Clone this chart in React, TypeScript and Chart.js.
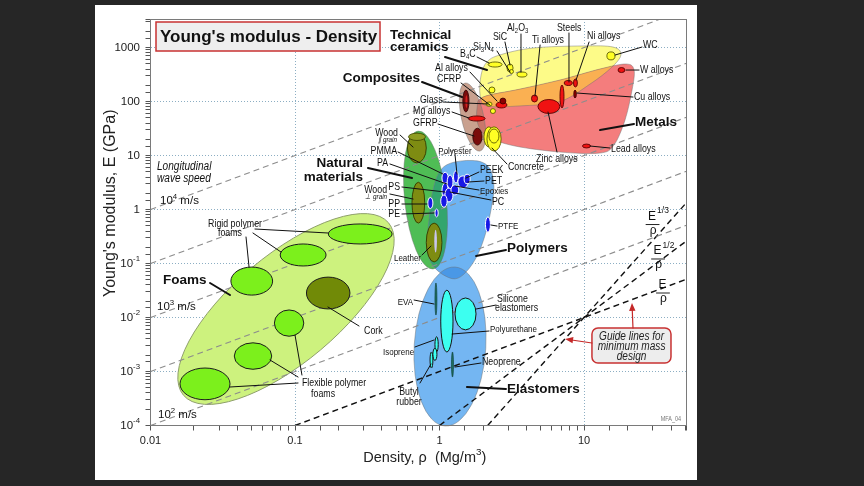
import React, { useEffect, useRef } from 'react';
import { Chart, registerables } from 'chart.js';
Chart.register(...registerables);

type R = [number, number];
type Seg = { t: string; v?: 'sub' | 'sup' };
type Cell = { name: string; rho: R; E: R };
type RotEnv = { from: R; to: R; ratio: number };

const FAMILY = "'Liberation Sans', Arial, Helvetica, sans-serif";

// ---------------- axes ----------------
const densityRange: R = [0.01, 50.8];
const modulusRange: R = [1e-4, 3375];
const xTickLabels = [
  { v: 0.01, t: '0.01' },
  { v: 0.1, t: '0.1' },
  { v: 1, t: '1' },
  { v: 10, t: '10' },
];
const yTickLabels: { v: number; t: string; sup?: string }[] = [
  { v: 1000, t: '1000' },
  { v: 100, t: '100' },
  { v: 10, t: '10' },
  { v: 1, t: '1' },
  { v: 0.1, t: '10', sup: '-1' },
  { v: 0.01, t: '10', sup: '-2' },
  { v: 0.001, t: '10', sup: '-3' },
  { v: 0.0001, t: '10', sup: '-4' },
];

// ---------------- guide lines (density, modulus end points) ----------------
const waveSpeedLines: R[][] = [
  [[0.01, 1], [60, 6000]],
  [[0.01, 0.1], [60, 600]],
  [[0.01, 0.01], [60, 60]],
  [[0.01, 0.001], [60, 6]],
  [[0.01, 0.0001], [60, 0.6]],
];
const minMassLines: R[][] = [
  [[0.1, 0.0001], [60, 0.06]],
  [[1, 0.0001], [60, 0.36]],
  [[2.154, 0.0001], [60, 2.16]],
];

// ---------------- envelopes ----------------
const foamsEnvelope: RotEnv = { from: [0.444, 0.567], to: [0.0169, 0.000364], ratio: 0.4 };
const naturalEnvelope: RotEnv = { from: [0.71, 28.4], to: [0.902, 0.0791], ratio: 0.3 };
const compositesEnvelope: RotEnv = { from: [1.502, 220], to: [1.907, 12.1], ratio: 0.32 };
const elastomersEnvelope: RotEnv = { from: [1.28, 0.0861], to: [1.092, 0.0000979], ratio: 0.45 };
const ceramicsEnvelope: R[] = [
  [2.13, 540], [2.62, 730], [4.44, 980], [9.84, 1070], [15.9, 1020], [18.0, 730],
  [15.4, 420], [11.0, 210], [6.82, 100], [3.61, 83], [2.13, 83], [1.91, 130], [1.94, 310],
];
const metalsEnvelope: R[] = [
  [2.0, 121], [3.61, 170], [6.82, 250], [12.9, 400], [19.5, 495], [22.2, 383], [21.5, 163],
  [19.2, 45], [16.1, 15.6], [12.9, 11.1], [6.82, 11.6], [3.33, 15], [2.17, 22], [1.85, 37], [1.82, 76],
];
const polymersEnvelope: R[] = [
  [1.28, 7.6], [1.85, 7.9], [2.24, 5.6], [2.38, 2.6], [2.27, 0.98], [2.07, 0.34], [1.82, 0.138],
  [1.53, 0.07], [1.28, 0.052], [1.04, 0.064], [0.887, 0.098], [0.819, 0.194], [0.846, 0.64],
  [0.902, 2.3], [1.02, 5.4],
];

// ---------------- material property ranges ----------------
const foamCells: Cell[] = [
  { name: 'Rigid polymer foam HD', rho: [0.17, 0.47], E: [0.23, 0.54] },
  { name: 'Rigid polymer foam MD', rho: [0.079, 0.164], E: [0.09, 0.23] },
  { name: 'Rigid polymer foam LD', rho: [0.036, 0.07], E: [0.026, 0.086] },
  { name: 'Flexible polymer foam HD', rho: [0.072, 0.115], E: [0.0045, 0.0138] },
  { name: 'Flexible polymer foam MD', rho: [0.038, 0.069], E: [0.0011, 0.0034] },
  { name: 'Flexible polymer foam LD', rho: [0.016, 0.0355], E: [0.0003, 0.00116] },
];
const corkCells: Cell[] = [{ name: 'Cork', rho: [0.12, 0.24], E: [0.0144, 0.056] }];
const naturalCells: Cell[] = [
  { name: 'Wood ∥ grain', rho: [0.6, 0.81], E: [7.3, 26] },
  { name: 'Wood ⊥ grain', rho: [0.645, 0.79], E: [0.56, 3.2] },
  { name: 'Leather', rho: [0.81, 1.04], E: [0.107, 0.56] },
];
const woodEndCells: Cell[] = [{ name: 'Wood ∥ grain end', rho: [0.61, 0.8], E: [19, 26] }];
const leatherCoreCells: Cell[] = [{ name: 'Leather core', rho: [0.92, 0.96], E: [0.16, 0.42] }];
const polymerCells: Cell[] = [
  { name: 'PMMA', rho: [1.04, 1.15], E: [3.0, 4.9] },
  { name: 'PA', rho: [1.13, 1.24], E: [2.4, 4.35] },
  { name: 'Polyester', rho: [1.25, 1.35], E: [3.1, 5.2] },
  { name: 'PEEK', rho: [1.34, 1.58], E: [2.5, 4.2] },
  { name: 'PET', rho: [1.48, 1.63], E: [3.0, 4.5] },
  { name: 'PS', rho: [1.04, 1.15], E: [1.57, 3.1] },
  { name: 'Epoxies', rho: [1.09, 1.24], E: [1.38, 2.5] },
  { name: 'PC', rho: [1.02, 1.13], E: [1.1, 1.86] },
  { name: 'PVC', rho: [1.2, 1.36], E: [1.86, 2.84] },
  { name: 'PP', rho: [0.83, 0.9], E: [1.04, 1.67] },
  { name: 'PE', rho: [0.93, 0.98], E: [0.73, 1.02] },
  { name: 'PTFE', rho: [2.08, 2.25], E: [0.38, 0.73] },
];
const elastomerCells: Cell[] = [
  { name: 'Polyurethane', rho: [1.02, 1.24], E: [0.0023, 0.032] },
  { name: 'Silicone elastomers', rho: [1.28, 1.79], E: [0.0059, 0.023] },
  { name: 'Isoprene', rho: [0.93, 0.98], E: [0.0023, 0.0044] },
  { name: 'Isoprene 2', rho: [0.9, 0.96], E: [0.0016, 0.0027] },
  { name: 'Butyl rubber', rho: [0.86, 0.9], E: [0.00116, 0.0023] },
];
const elastomerDarkCells: Cell[] = [
  { name: 'EVA', rho: [0.93, 0.96], E: [0.0111, 0.0436] },
  { name: 'Neoprene', rho: [1.21, 1.25], E: [0.00079, 0.0023] },
];
const compositeCells: Cell[] = [
  { name: 'CFRP', rho: [1.45, 1.6], E: [64, 163] },
  { name: 'GFRP', rho: [1.7, 1.97], E: [15.6, 32] },
];
const compositeCoreCells: Cell[] = [{ name: 'CFRP core', rho: [1.51, 1.56], E: [76, 130] }];
const ceramicCells: Cell[] = [
  { name: 'Concrete A', rho: [2.03, 2.38], E: [14.4, 34] },
  { name: 'Concrete B', rho: [2.13, 2.67], E: [12.1, 34] },
  { name: 'Concrete core', rho: [2.2, 2.58], E: [17, 31] },
  { name: 'B4C', rho: [2.17, 2.71], E: [435, 540] },
  { name: 'SiC', rho: [2.93, 3.23], E: [352, 495] },
  { name: 'Si3N4', rho: [3.05, 3.25], E: [330, 391] },
  { name: 'Al2O3', rho: [3.44, 4.03], E: [284, 352] },
  { name: 'AlN', rho: [2.2, 2.42], E: [144, 186] },
  { name: 'WC', rho: [14.4, 16.4], E: [590, 830] },
  { name: 'Soda glass', rho: [2.1, 2.31], E: [82, 98] },
  { name: 'Silica glass', rho: [2.25, 2.44], E: [60, 74] },
];
const metalCells: Cell[] = [
  { name: 'Mg alloys', rho: [1.58, 2.07], E: [43.5, 54] },
  { name: 'Al alloys', rho: [2.46, 2.93], E: [76, 98] },
  { name: 'Ti alloys', rho: [4.33, 4.77], E: [98, 132] },
  { name: 'Zinc alloys', rho: [4.8, 6.8], E: [60, 109] },
  { name: 'Cast irons', rho: [6.82, 7.27], E: [76, 202] },
  { name: 'Steels', rho: [7.3, 8.3], E: [198, 245] },
  { name: 'Ni alloys', rho: [8.46, 9.0], E: [186, 261] },
  { name: 'W alloys', rho: [17.2, 19.2], E: [344, 426] },
  { name: 'Lead alloys', rho: [9.76, 11.1], E: [13.8, 16.3] },
];
const metalDarkCells: Cell[] = [
  { name: 'Al alloys wrought', rho: [2.62, 2.88], E: [90, 116] },
  { name: 'Cu alloys', rho: [8.5, 8.85], E: [116, 163] },
];

// ---------------- annotations (positions as [log10 density, log10 modulus]) ----------------
type Lbl = { t: string | Seg[]; at: R; align: 'left' | 'right' | 'center'; k: string };
const groupLabels: Lbl[] = [
  { t: 'Technical', at: [-0.343, 3.231], align: 'left', k: 'group' },
  { t: 'ceramics', at: [-0.343, 3.009], align: 'left', k: 'group' },
  { t: 'Composites', at: [-0.135, 2.435], align: 'right', k: 'group' },
  { t: 'Natural', at: [-0.529, 0.861], align: 'right', k: 'group' },
  { t: 'materials', at: [-0.529, 0.602], align: 'right', k: 'group' },
  { t: 'Foams', at: [-1.913, -1.306], align: 'left', k: 'group' },
  { t: 'Polymers', at: [0.467, -0.713], align: 'left', k: 'group' },
  { t: 'Elastomers', at: [0.467, -3.324], align: 'left', k: 'group' },
  { t: 'Metals', at: [1.353, 1.62], align: 'left', k: 'group' },
];
const groupLeaders: R[][] = [
  [[0.038, 2.824], [0.329, 2.583]],
  [[-0.121, 2.361], [0.156, 2.083]],
  [[-0.495, 0.769], [-0.19, 0.583]],
  [[-1.588, -1.361], [-1.45, -1.583]],
  [[0.46, -0.75], [0.253, -0.861]],
  [[0.46, -3.324], [0.19, -3.287]],
  [[1.346, 1.583], [1.111, 1.472]],
];
const materialLabels: Lbl[] = [
  { t: 'Wood', at: [-0.287, 1.417], align: 'right', k: 'small' },
  { t: '∥ grain', at: [-0.294, 1.287], align: 'right', k: 'tiny' },
  { t: 'PMMA', at: [-0.294, 1.083], align: 'right', k: 'small' },
  { t: 'PA', at: [-0.356, 0.861], align: 'right', k: 'small' },
  { t: 'PS', at: [-0.273, 0.417], align: 'right', k: 'small' },
  { t: 'Wood', at: [-0.363, 0.361], align: 'right', k: 'small' },
  { t: '⊥ grain', at: [-0.363, 0.231], align: 'right', k: 'tiny' },
  { t: 'PP', at: [-0.273, 0.102], align: 'right', k: 'small' },
  { t: 'PE', at: [-0.273, -0.083], align: 'right', k: 'small' },
  { t: 'Leather', at: [-0.128, -0.898], align: 'right', k: 'small9' },
  { t: 'Polyester', at: [0.107, 1.083], align: 'center', k: 'small9' },
  { t: 'PEEK', at: [0.28, 0.731], align: 'left', k: 'small' },
  { t: 'PET', at: [0.315, 0.528], align: 'left', k: 'small' },
  { t: 'Epoxies', at: [0.28, 0.343], align: 'left', k: 'small9' },
  { t: 'PC', at: [0.363, 0.139], align: 'left', k: 'small' },
  { t: 'PTFE', at: [0.405, -0.306], align: 'left', k: 'small9' },
  { t: 'EVA', at: [-0.183, -1.713], align: 'right', k: 'small9' },
  { t: 'Silicone', at: [0.398, -1.657], align: 'left', k: 'small' },
  { t: 'elastomers', at: [0.384, -1.824], align: 'left', k: 'small' },
  { t: 'Polyurethane', at: [0.349, -2.213], align: 'left', k: 'small9' },
  { t: 'Isoprene', at: [-0.176, -2.639], align: 'right', k: 'small9' },
  { t: 'Neoprene', at: [0.294, -2.824], align: 'left', k: 'small' },
  { t: 'Butyl', at: [-0.211, -3.38], align: 'center', k: 'small' },
  { t: 'rubber', at: [-0.211, -3.565], align: 'center', k: 'small' },
  { t: 'Rigid polymer', at: [-1.415, -0.269], align: 'center', k: 'small' },
  { t: 'foams', at: [-1.45, -0.435], align: 'center', k: 'small' },
  { t: 'Cork', at: [-0.522, -2.25], align: 'left', k: 'small' },
  { t: 'Flexible polymer', at: [-0.73, -3.213], align: 'center', k: 'small' },
  { t: 'foams', at: [-0.806, -3.417], align: 'center', k: 'small' },
  { t: 'Concrete', at: [0.474, 0.787], align: 'left', k: 'small' },
  { t: 'Zinc alloys', at: [0.668, 0.935], align: 'left', k: 'small' },
  { t: 'Lead alloys', at: [1.187, 1.12], align: 'left', k: 'small' },
  { t: 'Cu alloys', at: [1.346, 2.083], align: 'left', k: 'small' },
  { t: 'W alloys', at: [1.388, 2.583], align: 'left', k: 'small' },
  { t: 'WC', at: [1.408, 3.046], align: 'left', k: 'small' },
  { t: 'Ni alloys', at: [1.021, 3.213], align: 'left', k: 'small' },
  { t: 'Steels', at: [0.813, 3.361], align: 'left', k: 'small' },
  { t: 'Ti alloys', at: [0.64, 3.139], align: 'left', k: 'small' },
  { t: [{ t: 'Al' }, { t: '2', v: 'sub' }, { t: 'O' }, { t: '3', v: 'sub' }], at: [0.467, 3.361], align: 'left', k: 'small' },
  { t: 'SiC', at: [0.37, 3.194], align: 'left', k: 'small' },
  { t: [{ t: 'Si' }, { t: '3', v: 'sub' }, { t: 'N' }, { t: '4', v: 'sub' }], at: [0.232, 3.009], align: 'left', k: 'small' },
  { t: [{ t: 'B' }, { t: '4', v: 'sub' }, { t: 'C' }], at: [0.142, 2.88], align: 'left', k: 'small' },
  { t: 'Al alloys', at: [-0.031, 2.62], align: 'left', k: 'small' },
  { t: 'CFRP', at: [-0.017, 2.417], align: 'left', k: 'small' },
  { t: 'Glass', at: [-0.135, 2.028], align: 'left', k: 'small' },
  { t: 'Mg alloys', at: [-0.183, 1.824], align: 'left', k: 'small' },
  { t: 'GFRP', at: [-0.183, 1.602], align: 'left', k: 'small' },
];
const materialLeaders: R[][] = [
  [[-0.273, 1.38], [-0.183, 1.157]],
  [[-0.287, 1.065], [0.024, 0.657]],
  [[-0.343, 0.843], [0.052, 0.472]],
  [[-0.26, 0.417], [0.038, 0.324]],
  [[-0.343, 0.287], [-0.183, 0.194]],
  [[-0.26, 0.102], [-0.087, 0.102]],
  [[-0.26, -0.083], [-0.038, -0.065]],
  [[-0.121, -0.843], [-0.059, -0.676]],
  [[0.107, 1.028], [0.121, 0.657]],
  [[0.273, 0.694], [0.183, 0.583]],
  [[0.308, 0.528], [0.197, 0.509]],
  [[0.273, 0.361], [0.107, 0.435]],
  [[0.356, 0.176], [0.073, 0.324]],
  [[0.398, -0.306], [0.356, -0.287]],
  [[-0.176, -1.676], [-0.038, -1.75]],
  [[0.391, -1.769], [0.253, -1.843]],
  [[0.343, -2.25], [0.087, -2.306]],
  [[-0.17, -2.546], [-0.038, -2.417]],
  [[0.287, -2.843], [0.107, -2.917]],
  [[-0.135, -3.213], [-0.059, -2.861]],
  [[-1.277, -0.361], [-0.772, -0.435]],
  [[-1.291, -0.435], [-1.097, -0.787]],
  [[-1.339, -0.509], [-1.318, -1.065]],
  [[-0.772, -1.806], [-0.557, -2.157]],
  [[-1.45, -3.287], [-0.979, -3.213]],
  [[-1.173, -2.787], [-0.979, -3.102]],
  [[-1.0, -2.324], [-0.952, -3.065]],
  [[0.467, 0.843], [0.363, 1.139]],
  [[0.813, 1.065], [0.751, 1.806]],
  [[1.18, 1.139], [1.042, 1.176]],
  [[1.339, 2.083], [0.952, 2.157]],
  [[1.381, 2.583], [1.291, 2.583]],
  [[1.401, 3.009], [1.215, 2.861]],
  [[1.035, 3.102], [0.945, 2.398]],
  [[0.896, 3.269], [0.896, 2.361]],
  [[0.696, 3.046], [0.661, 2.102]],
  [[0.564, 3.25], [0.564, 2.546]],
  [[0.453, 3.102], [0.488, 2.676]],
  [[0.398, 2.935], [0.488, 2.546]],
  [[0.26, 2.824], [0.343, 2.713]],
  [[0.211, 2.546], [0.398, 2.009]],
  [[0.149, 2.343], [0.349, 1.935]],
  [[0.024, 1.991], [0.336, 1.954]],
  [[0.087, 1.806], [0.204, 1.694]],
  [[-0.01, 1.583], [0.239, 1.361]],
];
const speedLabels: { sup: string; at: R }[] = [
  { sup: '4', at: [-1.934, 0.157] },
  { sup: '3', at: [-1.955, -1.806] },
  { sup: '2', at: [-1.948, -3.806] },
];
const noteLabels: Lbl[] = [
  { t: 'Longitudinal', at: [-1.955, 0.787], align: 'left', k: 'note' },
  { t: 'wave speed', at: [-1.955, 0.565], align: 'left', k: 'note' },
];
const guideFractions: { sup: string; at: R }[] = [
  { sup: '1/3', at: [1.471, -0.269] },
  { sup: '1/2', at: [1.509, -0.907] },
  { sup: '', at: [1.543, -1.537] },
];
const guideBox: R[] = [[1.055, -2.194], [1.602, -2.843]];
const guideBoxText: Lbl[] = [
  { t: 'Guide lines for', at: [1.329, -2.361], align: 'center', k: 'note' },
  { t: 'minimum mass', at: [1.329, -2.546], align: 'center', k: 'note' },
  { t: 'design', at: [1.329, -2.731], align: 'center', k: 'note' },
];
const guideArrows: R[][] = [
  [[1.055, -2.472], [0.869, -2.398]],
  [[1.339, -2.194], [1.332, -1.731]],
];

// ---------------- styles ----------------
const textStyles: Record<string, { size: number; bold?: boolean; italic?: boolean; sx: number }> = {
  group: { size: 13.5, bold: true, sx: 1 },
  small: { size: 10.5, sx: 0.84 },
  small9: { size: 9.5, sx: 0.84 },
  tiny: { size: 7.5, sx: 0.84, italic: true },
  note: { size: 12, italic: true, sx: 0.84 },
  speed: { size: 11.5, sx: 1 },
};
type CellStyle = { fill: string; stroke?: string; lw?: number };
const cellStyles: Record<string, CellStyle> = {
  foam: { fill: '#7cf01c', stroke: '#1c1c1c', lw: 1 },
  cork: { fill: '#718a07', stroke: '#1c1c1c', lw: 1 },
  natural: { fill: '#7e8c12', stroke: '#3a4200', lw: 1 },
  woodEnd: { fill: '#8e9c22', stroke: '#3a4200', lw: 0.8 },
  leatherCore: { fill: '#c9c6ee' },
  polymer: { fill: '#1818e6', stroke: '#ffffff', lw: 1 },
  elastomer: { fill: '#3cfff0', stroke: '#151515', lw: 1 },
  elastomerDark: { fill: '#1d6f60', stroke: '#0b3a30', lw: 0.6 },
  composite: { fill: '#7a0b0b', stroke: '#2e0000', lw: 0.8 },
  compositeCore: { fill: '#d42020' },
  ceramic: { fill: '#ffff24', stroke: '#5c5c00', lw: 0.9 },
  metal: { fill: '#f01212', stroke: '#5a0000', lw: 0.9 },
  metalDark: { fill: '#8c0000', stroke: '#3a0000', lw: 0.8 },
};

function font(k: string, scale = 1) {
  const s = textStyles[k];
  return `${s.italic ? 'italic ' : ''}${s.bold ? 'bold ' : ''}${s.size * scale}px ${FAMILY}`;
}

function rich(ctx: CanvasRenderingContext2D, segs: Seg[], x: number, y: number, size: number,
  align: 'left' | 'right' | 'center', sx: number, pre = '') {
  ctx.save();
  ctx.translate(x, y);
  ctx.scale(sx, 1);
  ctx.textBaseline = 'middle';
  ctx.textAlign = 'left';
  const f = (s: Seg) => `${pre}${s.v ? size * 0.68 : size}px ${FAMILY}`;
  let w = 0;
  for (const s of segs) { ctx.font = f(s); w += ctx.measureText(s.t).width; }
  let cx = align === 'left' ? 0 : align === 'right' ? -w : -w / 2;
  for (const s of segs) {
    ctx.font = f(s);
    const dy = s.v === 'sup' ? -size * 0.38 : s.v === 'sub' ? size * 0.3 : 0;
    ctx.fillText(s.t, cx, dy);
    cx += ctx.measureText(s.t).width;
  }
  ctx.restore();
}

function drawLabel(ctx: CanvasRenderingContext2D, l: Lbl, p: R) {
  const s = textStyles[l.k];
  const segs: Seg[] = typeof l.t === 'string' ? [{ t: l.t }] : l.t;
  const pre = `${s.italic ? 'italic ' : ''}${s.bold ? 'bold ' : ''}`;
  rich(ctx, segs, p[0], p[1], s.size, l.align, s.sx, pre);
}

const isMajor = (v: number) => Math.abs(Math.log10(v) - Math.round(Math.log10(v))) < 1e-6;

const ashbyPlugin = {
  id: 'ashby',
  beforeDatasetsDraw(chart: any) {
    const ctx: CanvasRenderingContext2D = chart.ctx;
    const xs = chart.scales.x, ys = chart.scales.y;
    const P = (d: R): R => [xs.getPixelForValue(d[0]), ys.getPixelForValue(d[1])];
    const rot = (e: RotEnv) => {
      const a = P(e.from), b = P(e.to);
      const dx = b[0] - a[0], dy = b[1] - a[1];
      const ra = Math.hypot(dx, dy) / 2;
      ctx.beginPath();
      ctx.ellipse((a[0] + b[0]) / 2, (a[1] + b[1]) / 2, ra, ra * e.ratio, Math.atan2(dy, dx), 0, Math.PI * 2);
      ctx.closePath();
    };
    const smooth = (pts: R[]) => {
      const q = pts.map(P);
      const n = q.length;
      ctx.beginPath();
      ctx.moveTo(q[0][0], q[0][1]);
      for (let i = 0; i < n; i++) {
        const p0 = q[(i - 1 + n) % n], p1 = q[i], p2 = q[(i + 1) % n], p3 = q[(i + 2) % n];
        ctx.bezierCurveTo(p1[0] + (p2[0] - p0[0]) / 6, p1[1] + (p2[1] - p0[1]) / 6,
          p2[0] - (p3[0] - p1[0]) / 6, p2[1] - (p3[1] - p1[1]) / 6, p2[0], p2[1]);
      }
      ctx.closePath();
    };
    const fill = (path: () => void, color: string) => { path(); ctx.fillStyle = color; ctx.fill(); };
    const overlap = (clipPath: () => void, path: () => void, color: string) => {
      ctx.save(); clipPath(); ctx.clip(); fill(path, color); ctx.restore();
    };
    const fo = () => rot(foamsEnvelope);
    const ce = () => smooth(ceramicsEnvelope);
    const me = () => smooth(metalsEnvelope);
    const co = () => rot(compositesEnvelope);
    const na = () => rot(naturalEnvelope);
    const po = () => smooth(polymersEnvelope);
    const el = () => rot(elastomersEnvelope);

    ctx.save();
    fill(fo, '#cdf27e');
    fill(ce, '#fdfb88');
    fill(me, '#f47d7d');
    overlap(ce, me, '#fab052');
    fill(co, '#c9a18f');
    overlap(co, me, '#c8776b');
    fill(na, '#4fbd55');
    fill(el, '#74b6f2');
    fill(po, '#6db3f2');
    overlap(na, po, '#33a56e');
    overlap(po, el, '#4a98e6');
    ctx.lineWidth = 1;
    ctx.strokeStyle = '#8f9f6c'; fo(); ctx.stroke();
    ctx.strokeStyle = 'rgba(110,110,110,0.45)';
    for (const p of [ce, me, co, na, po, el]) { p(); ctx.stroke(); }
    ctx.restore();
  },
  afterDatasetsDraw(chart: any) {
    const ctx: CanvasRenderingContext2D = chart.ctx;
    const a = chart.chartArea;
    const xs = chart.scales.x, ys = chart.scales.y;
    const P = (d: R): R => [xs.getPixelForValue(d[0]), ys.getPixelForValue(d[1])];
    const PL = (l: R): R => P([Math.pow(10, l[0]), Math.pow(10, l[1])]);

    const cells = (list: Cell[], st: CellStyle) => {
      for (const c of list) {
        const p = P([c.rho[0], c.E[0]]), q = P([c.rho[1], c.E[1]]);
        ctx.beginPath();
        ctx.ellipse((p[0] + q[0]) / 2, (p[1] + q[1]) / 2, Math.abs(q[0] - p[0]) / 2, Math.abs(q[1] - p[1]) / 2, 0, 0, Math.PI * 2);
        ctx.fillStyle = st.fill; ctx.fill();
        if (st.stroke) { ctx.lineWidth = st.lw || 1; ctx.strokeStyle = st.stroke; ctx.stroke(); }
      }
    };
    ctx.save();
    cells(foamCells, cellStyles.foam);
    cells(corkCells, cellStyles.cork);
    cells(naturalCells, cellStyles.natural);
    cells(woodEndCells, cellStyles.woodEnd);
    cells(leatherCoreCells, cellStyles.leatherCore);
    cells(polymerCells, cellStyles.polymer);
    cells(elastomerCells, cellStyles.elastomer);
    cells(elastomerDarkCells, cellStyles.elastomerDark);
    cells(compositeCells, cellStyles.composite);
    cells(compositeCoreCells, cellStyles.compositeCore);
    cells(ceramicCells, cellStyles.ceramic);
    cells(metalCells, cellStyles.metal);
    cells(metalDarkCells, cellStyles.metalDark);

    // leaders
    ctx.strokeStyle = '#111';
    ctx.lineCap = 'round';
    const lines = (list: R[][], w: number) => {
      ctx.lineWidth = w;
      for (const [s, e] of list) {
        const p = PL(s), q = PL(e);
        ctx.beginPath(); ctx.moveTo(p[0], p[1]); ctx.lineTo(q[0], q[1]); ctx.stroke();
      }
    };
    lines(materialLeaders, 1);
    lines(groupLeaders, 2);

    // labels
    ctx.fillStyle = '#111';
    for (const l of [...groupLabels, ...materialLabels, ...noteLabels]) drawLabel(ctx, l, PL(l.at));
    for (const s of speedLabels) {
      const p = PL(s.at);
      rich(ctx, [{ t: '10' }, { t: s.sup, v: 'sup' }, { t: ' m/s' }], p[0], p[1], textStyles.speed.size, 'left', 1);
    }
    // guide fractions
    for (const g of guideFractions) {
      const p = PL(g.at);
      ctx.font = `12px ${FAMILY}`;
      ctx.textAlign = 'center'; ctx.textBaseline = 'middle';
      ctx.fillText('E', p[0], p[1] - 7.5);
      ctx.fillText('ρ', p[0] + 1, p[1] + 6.5);
      if (g.sup) { ctx.font = `8.5px ${FAMILY}`; ctx.textAlign = 'left'; ctx.fillText(g.sup, p[0] + 5, p[1] - 13); }
      ctx.lineWidth = 1; ctx.strokeStyle = '#222';
      ctx.beginPath(); ctx.moveTo(p[0] - 6, p[1] + 0.5); ctx.lineTo(p[0] + 7, p[1] + 0.5); ctx.stroke();
    }
    // guide box
    const b0 = PL(guideBox[0]), b1 = PL(guideBox[1]);
    ctx.beginPath();
    (ctx as any).roundRect(b0[0], b0[1], b1[0] - b0[0], b1[1] - b0[1], 6);
    ctx.fillStyle = '#ededed'; ctx.fill();
    ctx.strokeStyle = '#c83232'; ctx.lineWidth = 1.5; ctx.stroke();
    ctx.fillStyle = '#222';
    for (const l of guideBoxText) drawLabel(ctx, l, PL(l.at));
    ctx.strokeStyle = '#c42828'; ctx.fillStyle = '#c42828'; ctx.lineWidth = 1.2;
    for (const [s, e] of guideArrows) {
      const p = PL(s), q = PL(e);
      const ang = Math.atan2(q[1] - p[1], q[0] - p[0]);
      ctx.beginPath(); ctx.moveTo(p[0], p[1]); ctx.lineTo(q[0] - 5 * Math.cos(ang), q[1] - 5 * Math.sin(ang)); ctx.stroke();
      ctx.beginPath();
      ctx.moveTo(q[0], q[1]);
      ctx.lineTo(q[0] - 8 * Math.cos(ang) + 3.2 * Math.sin(ang), q[1] - 8 * Math.sin(ang) - 3.2 * Math.cos(ang));
      ctx.lineTo(q[0] - 8 * Math.cos(ang) - 3.2 * Math.sin(ang), q[1] - 8 * Math.sin(ang) + 3.2 * Math.cos(ang));
      ctx.closePath(); ctx.fill();
    }
    // MFA tag
    ctx.fillStyle = '#777';
    rich(ctx, [{ t: 'MFA_04' }], a.right - 5, a.bottom - 6, 6.5, 'right', 0.84);

    // frame
    ctx.strokeStyle = '#7a7a7a'; ctx.lineWidth = 1;
    ctx.strokeRect(a.left, a.top + 0.5, a.right - a.left + 0.5, a.bottom - a.top - 0.5);

    // title box
    const tx = a.left + 5.5, ty = a.top + 3;
    ctx.fillStyle = '#eeeeee'; ctx.fillRect(tx, ty, 224, 29);
    ctx.strokeStyle = '#c83232'; ctx.lineWidth = 1.5; ctx.strokeRect(tx, ty, 224, 29);
    ctx.fillStyle = '#111';
    ctx.font = `bold 17px ${FAMILY}`; ctx.textAlign = 'left'; ctx.textBaseline = 'alphabetic';
    ctx.fillText("Young's modulus - Density", tx + 4, ty + 19.5);

    // y tick labels
    ctx.fillStyle = '#222';
    for (const t of yTickLabels) {
      if (!ys.ticks.some((k: any) => Math.abs(k.value - t.v) / t.v < 1e-6)) continue;
      const y = ys.getPixelForValue(t.v);
      const segs: Seg[] = t.sup ? [{ t: t.t }, { t: t.sup, v: 'sup' }] : [{ t: t.t }];
      rich(ctx, segs, a.left - 10.5, y, 11.5, 'right', 1);
    }
    // axis titles
    ctx.save();
    ctx.translate(a.left - 39.5, (a.top + a.bottom) / 2 - 19);
    ctx.rotate(-Math.PI / 2);
    ctx.font = `16px ${FAMILY}`; ctx.textAlign = 'center'; ctx.textBaseline = 'middle';
    ctx.fillStyle = '#222';
    ctx.fillText("Young's modulus, E (GPa)", 0, 0);
    ctx.restore();
    ctx.fillStyle = '#222';
    rich(ctx, [{ t: 'Density, ρ  (Mg/m' }, { t: '3', v: 'sup' }, { t: ')' }], (a.left + a.right) / 2 + 6.5, a.bottom + 32, 14.5, 'center', 1);
    ctx.restore();
  },
};

export default function App() {
  const ref = useRef<HTMLCanvasElement>(null);
  useEffect(() => {
    if (!ref.current) return;
    const datasets: any[] = [
      ...waveSpeedLines.map((l) => ({
        data: l.map(([x, y]) => ({ x, y })), showLine: true, pointRadius: 0,
        borderColor: '#8c8c8c', borderWidth: 1.1, borderDash: [6, 4], fill: false,
      })),
      ...minMassLines.map((l) => ({
        data: l.map(([x, y]) => ({ x, y })), showLine: true, pointRadius: 0,
        borderColor: '#111111', borderWidth: 1.4, borderDash: [6, 4], fill: false,
      })),
    ];
    const gridColor = (c: any) => (c.tick && isMajor(c.tick.value) ? 'rgba(120,160,185,0.85)' : 'rgba(0,0,0,0)');
    const chart = new Chart(ref.current, {
      type: 'scatter',
      data: { datasets },
      options: {
        animation: false,
        responsive: false,
        devicePixelRatio: 1,
        events: [],
        layout: { padding: { left: 0, right: 178, top: 19, bottom: 0 } },
        plugins: { legend: { display: false }, tooltip: { enabled: false } },
        scales: {
          x: {
            type: 'logarithmic', position: 'bottom',
            min: densityRange[0], max: densityRange[1],
            afterFit: (s: any) => { s.height = 60.5; },
            border: { display: false, dash: [1, 2] },
            grid: { color: gridColor, tickColor: '#555', tickLength: 5, lineWidth: 1 },
            ticks: {
              autoSkip: false, maxRotation: 0, padding: 4, color: '#222',
              font: { size: 11, family: FAMILY },
              callback: (v: any) => {
                const m = xTickLabels.find((t) => Math.abs(t.v - Number(v)) / t.v < 1e-6);
                return m ? m.t : '';
              },
            },
          },
          y: {
            type: 'logarithmic', position: 'left',
            min: modulusRange[0], max: modulusRange[1],
            afterFit: (s: any) => { s.width = 150.5; },
            border: { display: false, dash: [1, 2] },
            grid: { color: gridColor, tickColor: '#555', tickLength: 5, lineWidth: 1 },
            ticks: { display: false, autoSkip: false },
          },
        },
      } as any,
      plugins: [ashbyPlugin as any],
    });
    return () => chart.destroy();
  }, []);
  return (
    <div style={{ position: 'fixed', left: 0, top: 0, width: 864, height: 486, background: '#262626', overflow: 'hidden' }}>
      <div style={{ position: 'absolute', left: 95, top: 5, width: 602, height: 475, background: '#ffffff' }} />
      <canvas ref={ref} width={864} height={486} style={{ position: 'absolute', left: 0, top: 0, width: 864, height: 486 }} />
    </div>
  );
}
